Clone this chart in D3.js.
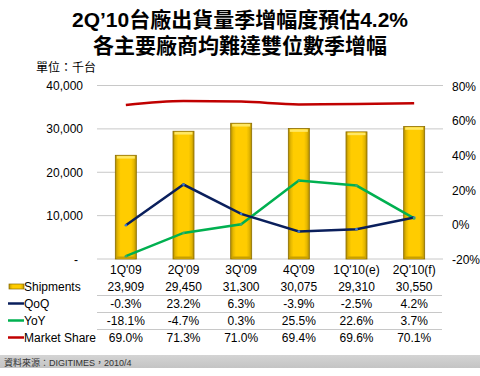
<!DOCTYPE html>
<html><head><meta charset="utf-8">
<script src="https://cdn.jsdelivr.net/npm/d3@7"></script>
<style>body{margin:0;background:#fff}svg{display:block}</style>
</head><body>
<script>
const categories = ["1Q'09","2Q'09","3Q'09","4Q'09","1Q'10(e)","2Q'10(f)"];
const shipments = [23909,29450,31300,30075,29310,30550];
const qoq = [-0.3,23.2,6.3,-3.9,-2.5,4.2];
const yoy = [-18.1,-4.7,0.3,25.5,22.6,3.7];
const share = [69.0,71.3,71.0,69.4,69.6,70.1];
const leftTicks = [0,10000,20000,30000,40000];
const rightTicks = [-20,0,20,40,60,80];

const W=480,H=376;
const svg=d3.select("body").append("svg").attr("width",W).attr("height",H);
const F='"Liberation Sans", Arial, "Noto Sans CJK TC", sans-serif';
const TF='"Liberation Sans", Arial, "Noto Sans CJK TC", sans-serif';

const x=d3.scaleBand().domain(categories).range([97,443]);
const yL=d3.scaleLinear().domain([0,40000]).range([259,85.5]);
const yR=d3.scaleLinear().domain([-20,80]).range([259.5,86]);

// title
svg.append("text").attr("x",240).attr("y",27).attr("text-anchor","middle")
  .attr("font-family",TF).attr("font-weight","bold").attr("font-size",21).attr("fill","#000")
  .text("2Q’10台廠出貨量季增幅度預估4.2%");
svg.append("text").attr("x",240).attr("y",53).attr("text-anchor","middle")
  .attr("font-family",TF).attr("font-weight","bold").attr("font-size",21).attr("fill","#000")
  .text("各主要廠商均難達雙位數季增幅");
svg.append("text").attr("x",36).attr("y",72).attr("font-family",F).attr("font-size",12).attr("fill","#000").text("單位：千台");

// grid
const g=svg.append("g");
g.selectAll("line.grid").data(leftTicks).join("line")
  .attr("x1",97).attr("x2",443).attr("y1",d=>yL(d)).attr("y2",d=>yL(d))
  .attr("stroke","#c8c8c8").attr("stroke-width",1);
g.selectAll("text.yl").data(leftTicks).join("text")
  .attr("x",d=>d===0?78:83).attr("y",d=>yL(d)+4.5).attr("text-anchor","end")
  .attr("font-family",F).attr("font-size",12).attr("fill","#000")
  .text(d=>d===0?"-":d3.format(",")(d));
g.selectAll("text.yr").data(rightTicks).join("text")
  .attr("x",452).attr("y",d=>yR(d)+4.5)
  .attr("font-family",F).attr("font-size",12).attr("fill","#000")
  .text(d=>d+"%");

// bar gradient
const defs=svg.append("defs");
const gr=defs.append("linearGradient").attr("id","bg").attr("x1","0").attr("x2","1").attr("y1","0").attr("y2","0");
[[0,"#b38f00"],[0.12,"#e6b800"],[0.25,"#ffcc00"],[0.75,"#ffcc00"],[0.88,"#e6b800"],[1,"#b38f00"]]
  .forEach(s=>gr.append("stop").attr("offset",s[0]).attr("stop-color",s[1]));

const bw=21;
const bars=svg.append("g");
bars.selectAll("rect.bar").data(shipments).join("rect")
  .attr("x",(d,i)=>x(categories[i])+x.bandwidth()/2-bw/2).attr("width",bw)
  .attr("y",d=>yL(d)).attr("height",d=>yL(0)-yL(d))
  .attr("fill","url(#bg)").attr("stroke","#8c6d00").attr("stroke-width",0.8);
bars.selectAll("rect.cap").data(shipments).join("rect")
  .attr("x",(d,i)=>x(categories[i])+x.bandwidth()/2-bw/2+1.5).attr("width",bw-3)
  .attr("y",d=>yL(d)+0.8).attr("height",2.5).attr("fill","#ffe866");
bars.selectAll("rect.base").data(shipments).join("rect")
  .attr("x",(d,i)=>x(categories[i])+x.bandwidth()/2-bw/2+1.5).attr("width",bw-3)
  .attr("y",yL(0)-2.5).attr("height",2).attr("fill","#c9a000");

const cx=i=>x(categories[i])+x.bandwidth()/2;
const lineLin=d3.line().x((d,i)=>cx(i)).y(d=>yR(d));
const lineSm=d3.line().x((d,i)=>cx(i)).y(d=>yR(d)).curve(d3.curveMonotoneX);

svg.append("path").attr("d",lineSm(share)).attr("fill","none").attr("stroke","#c00000").attr("stroke-width",2.5);
svg.append("path").attr("d",lineLin(yoy)).attr("fill","none").attr("stroke","#00b050").attr("stroke-width",2.5);
svg.append("path").attr("d",lineLin(qoq)).attr("fill","none").attr("stroke","#0a1f5c").attr("stroke-width",2.5);
svg.selectAll("circle.q").data(qoq).join("circle").attr("cx",(d,i)=>cx(i)).attr("cy",d=>yR(d)).attr("r",1.3).attr("fill","#3a7bd5");
svg.selectAll("circle.y").data(yoy).join("circle").attr("cx",(d,i)=>cx(i)).attr("cy",d=>yR(d)).attr("r",1.3).attr("fill","#3aa870");

// category labels
svg.selectAll("text.cat").data(categories).join("text")
  .attr("x",(d,i)=>cx(i)).attr("y",273.5).attr("text-anchor","middle")
  .attr("font-family",F).attr("font-size",12).attr("fill","#000").text(d=>d);

// data table
const rows=[
  {name:"Shipments",vals:shipments.map(d=>d3.format(",")(d)),y:291,type:"bar"},
  {name:"QoQ",vals:qoq.map(d=>d.toFixed(1)+"%"),y:308,type:"line",color:"#0a1f5c"},
  {name:"YoY",vals:yoy.map(d=>d.toFixed(1)+"%"),y:325,type:"line",color:"#00b050"},
  {name:"Market Share",vals:share.map(d=>d.toFixed(1)+"%"),y:342,type:"line",color:"#c00000"}
];
rows.forEach((r,ri)=>{
  svg.append("text").attr("x",24).attr("y",r.y).attr("font-family",F).attr("font-size",12).attr("fill","#000").text(r.name);
  svg.selectAll("text.v"+ri).data(r.vals).join("text")
    .attr("x",(d,i)=>cx(i)).attr("y",r.y).attr("text-anchor","middle")
    .attr("font-family",F).attr("font-size",12).attr("fill","#000").text(d=>d);
  if(r.type==="bar"){
    svg.append("rect").attr("x",9).attr("y",r.y-7).attr("width",15).attr("height",5).attr("fill","url(#bg)").attr("stroke","#8c6d00").attr("stroke-width",0.7);
  } else {
    svg.append("line").attr("x1",8).attr("x2",24).attr("y1",r.y-4.5).attr("y2",r.y-4.5).attr("stroke",r.color).attr("stroke-width",2.5);
  }
  if(ri<3){
    svg.append("line").attr("x1",97).attr("x2",442).attr("y1",r.y+4.5).attr("y2",r.y+4.5).attr("stroke","#c8c8c8");
  }
});

// footer
const fg=defs.append("linearGradient").attr("id","fg").attr("x1","0").attr("x2","0").attr("y1","0").attr("y2","1");
fg.append("stop").attr("offset",0).attr("stop-color","#d4d4d4");
fg.append("stop").attr("offset",1).attr("stop-color","#c4c4c4");
svg.append("rect").attr("x",0).attr("y",355).attr("width",W).attr("height",13).attr("fill","url(#fg)");
svg.append("text").attr("x",4).attr("y",365.5).attr("font-family",F).attr("font-size",9).attr("fill","#333")
  .text("資料來源：DIGITIMES，2010/4");
</script>
</body></html>
